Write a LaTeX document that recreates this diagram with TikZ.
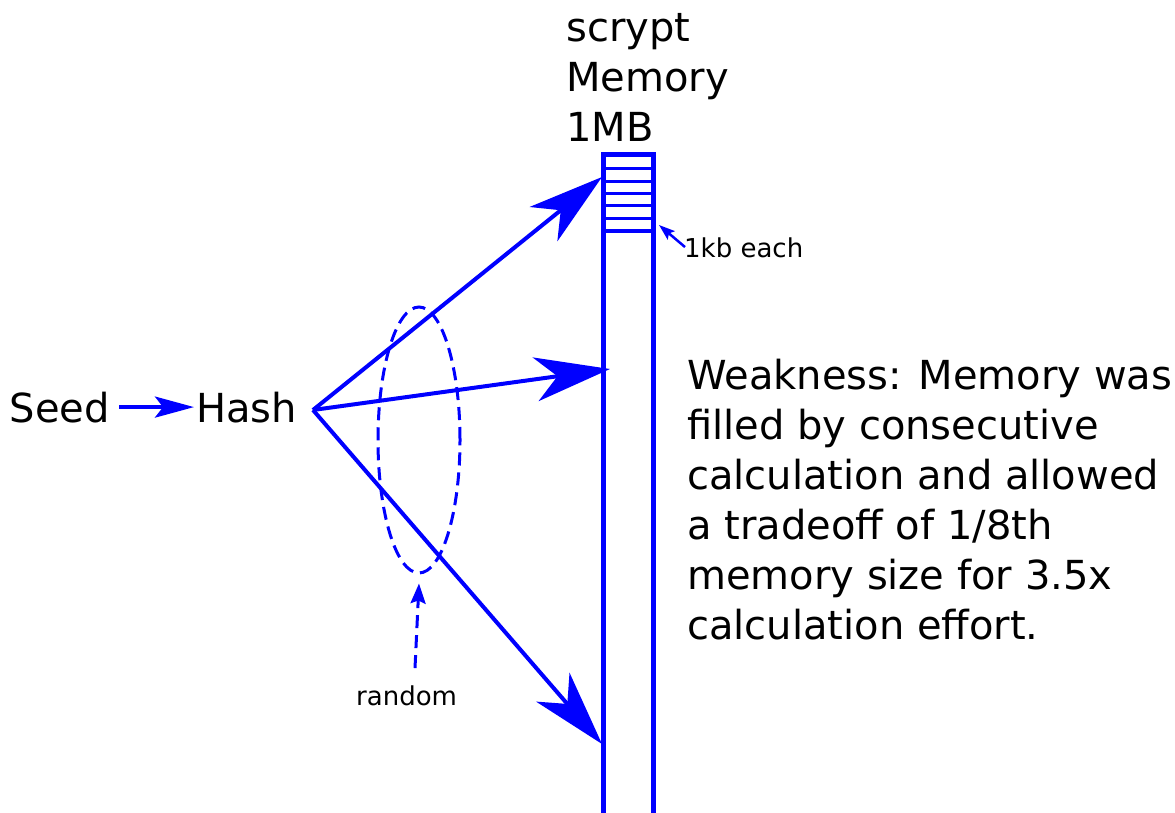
\documentclass[tikz,border=0pt]{standalone}
\usepackage{fontspec}
\setmainfont{DejaVu Sans}
\usetikzlibrary{arrows.meta,shapes.geometric}
\definecolor{memblue}{RGB}{0,0,255}
\begin{document}
\begin{tikzpicture}[x=1pt,y=-1pt,
  big/.style={font=\fontsize{40}{50}\selectfont, inner sep=0pt},
  small/.style={font=\fontsize{26}{32}\selectfont, inner sep=0pt},
  fanarrow/.style={draw=memblue, line width=4pt, -{Stealth[length=75pt,width=44pt,inset=22pt]}},
  memwall/.style={draw=memblue, line width=5pt, miter limit=10},
  cellline/.style={draw=memblue, line width=3pt},
  dashblue/.style={draw=memblue, line width=3pt, dash pattern=on 13pt off 7pt}]
\path[use as bounding box] (0,0) rectangle (1175,813);
\clip (0,0) rectangle (1175,813);

% memory column with its 1kb cells at the top
\draw[memwall] (603.5,830) -- (603.5,155) -- (653.5,155) -- (653.5,830);
\foreach \cy in {169,181.5,194,206,218.5,231}
  \draw[cellline] (603.5,\cy) -- (653.5,\cy);
\coordinate (slottop) at (602,177);
\coordinate (slotmid) at (610,369);
\coordinate (slotlow) at (602,744);
\coordinate (cellmark) at (659,225);

% labels (multi-line nodes sit on the baseline of their last line)
\node[big, anchor=base west, align=left] (memlabel) at (566,142) {scrypt\\Memory\\1MB};
\node[big, anchor=base west, inner xsep=9.5pt] (seed) at (0,422) {Seed};
\node[big, anchor=base west, inner xsep=2pt] (hash) at (194,422) {Hash};
\coordinate (fan) at (313,410);
\node[small, anchor=base west] (kb) at (684,258) {1kb each};
\node[small, anchor=base west] (rnd) at (356,705) {random};
\node[big, anchor=base west, align=left] (weak) at (687,639)
  {Weakness: Memory was\\filled by consecutive\\calculation and allowed\\a tradeoff of 1/8th\\memory size for 3.5x\\calculation effort.};

% seed to hash
\draw[draw=memblue, line width=4pt, -{Stealth[length=39pt,width=21pt,inset=8pt]}] (seed.east) -- (hash.west);

% random accesses from the hash into memory
\draw[fanarrow] (fan) -- (slottop);
\draw[fanarrow] (fan) -- (slotmid);
\draw[fanarrow] (fan) -- (slotlow);

% random selection marker
\node[dashblue, ellipse, minimum width=82pt, minimum height=266pt, inner sep=0pt] (pick) at (419,440) {};
\draw[dashblue, -{Stealth[length=20pt,width=15pt,inset=3pt]}] ([xshift=59pt,yshift=17pt]rnd.north west) -- ([yshift=-9pt]pick.south);

% cell size pointer
\draw[draw=memblue, line width=2.5pt, -{Stealth[length=16pt,width=11pt,inset=3pt]}] ([xshift=1pt,yshift=-9pt]kb.north west) -- (cellmark);
\end{tikzpicture}
\end{document}
